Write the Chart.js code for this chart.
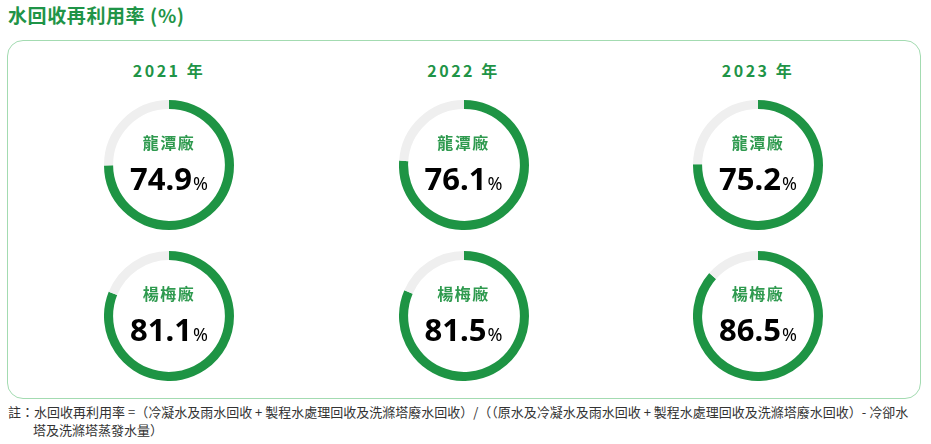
<!DOCTYPE html>
<html>
<head>
<meta charset="utf-8">
<script src="https://cdn.jsdelivr.net/npm/chart.js@4"></script>
<style>
  body { margin: 0; width: 931px; height: 444px; background: #fff; position: relative; overflow: hidden;
         font-family: "Noto Sans CJK TC", "Noto Sans", sans-serif; }
  .title { position: absolute; left: 8px; top: 1px; font-size: 19px; font-weight: bold; color: #1f9447; letter-spacing: 0.6px; }
  .card { position: absolute; left: 7px; top: 40px; width: 912px; height: 357px; border: 1px solid #a3dbb1; border-radius: 16px; }
  .year { position: absolute; width: 160px; text-align: center; font-size: 16px; font-weight: bold; color: #1f9447; letter-spacing: 2.5px; }
  .donut { position: absolute; width: 130px; height: 130px; }
  .center { position: absolute; left: 0; width: 130px; text-align: center; pointer-events: none; }
  .site { top: 30px; font-size: 16px; font-weight: bold; color: #2f9a4f; letter-spacing: 1.5px; }
  .val { top: 57px; font-family: "Noto Sans", sans-serif; font-size: 31px; font-weight: bold; color: #000; }
  .val span { font-size: 18px; font-weight: normal; margin-left: 1px; }
  .note { position: absolute; left: 8px; top: 403px; width: 911px; font-size: 13px; color: #333; line-height: 18px; padding-left: 25px; text-indent: -25px; box-sizing: border-box; }
</style>
</head>
<body>
<div class="title">水回收再利用率 (%)</div>
<div class="card"></div>
<div class="note">註：水回收再利用率 =（冷凝水及雨水回收 + 製程水處理回收及洗滌塔廢水回收）/（（原水及冷凝水及雨水回收 + 製程水處理回收及洗滌塔廢水回收）- 冷卻水塔及洗滌塔蒸發水量）</div>
<script>
const years = ['2021 年', '2022 年', '2023 年'];
const sites = ['龍潭廠', '楊梅廠'];
const longtan = [74.9, 76.1, 75.2];
const yangmei = [81.1, 81.5, 86.5];

const colX = [169, 463.5, 758];
const rowY = [165, 315.5];
const green = '#1e9444';
const track = '#efefef';

years.forEach((y, i) => {
    const d = document.createElement('div');
    d.className = 'year';
    d.textContent = y;
    d.style.left = (colX[i] - 80) + 'px';
    d.style.top = '58px';
    document.body.appendChild(d);
});

const seriesList = [longtan, yangmei];
seriesList.forEach((vals, r) => {
    vals.forEach((v, c) => {
        const box = document.createElement('div');
        box.className = 'donut';
        box.style.left = (colX[c] - 65) + 'px';
        box.style.top = (rowY[r] - 65) + 'px';
        const cv = document.createElement('canvas');
        box.appendChild(cv);
        const s = document.createElement('div');
        s.className = 'center site';
        s.textContent = sites[r];
        box.appendChild(s);
        const t = document.createElement('div');
        t.className = 'center val';
        t.innerHTML = v.toFixed(1) + '<span>%</span>';
        box.appendChild(t);
        document.body.appendChild(box);

        new Chart(cv, {
            type: 'doughnut',
            data: {
                labels: [sites[r], ''],
                datasets: [{
                    data: [v, 100 - v],
                    backgroundColor: [green, track],
                    borderWidth: 0
                }]
            },
            options: {
                responsive: true,
                maintainAspectRatio: false,
                animation: false,
                cutout: '86%',
                plugins: { legend: { display: false }, tooltip: { enabled: false } }
            }
        });
    });
});
</script>
</body>
</html>
